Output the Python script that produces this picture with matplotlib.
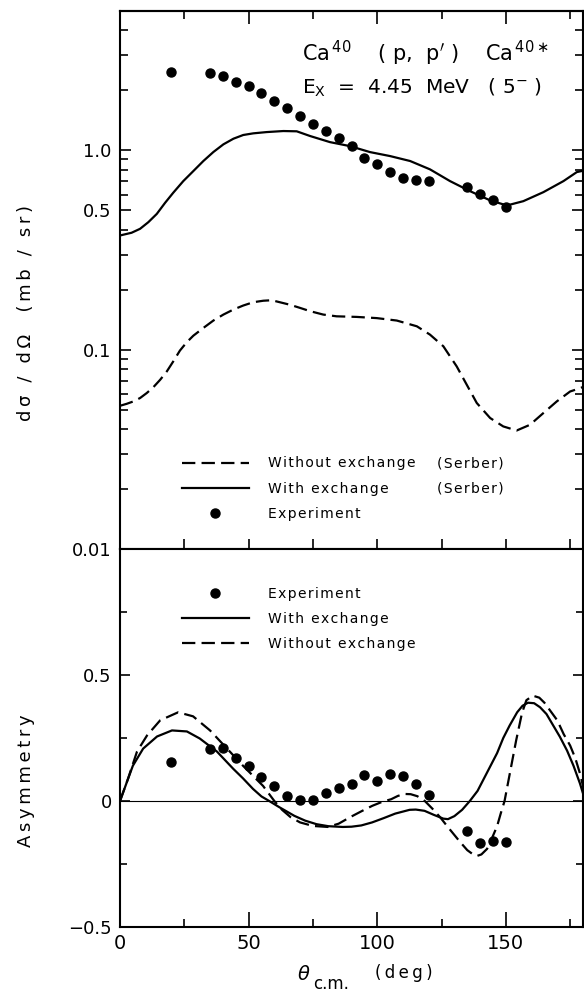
"""Ca40(p,p') 5- cross section and asymmetry, two stacked panels."""

import matplotlib
matplotlib.use('Agg')
import matplotlib.pyplot as plt
from matplotlib.ticker import FixedLocator, FixedFormatter, LogLocator, NullFormatter

plt.rcParams['font.family'] = ['DejaVu Sans']
plt.rcParams['mathtext.fontset'] = 'dejavusans'

# --- cross section (mb/sr) ---
exp_theta = [20, 35, 40, 45, 50, 55, 60, 65, 70, 75, 80, 85, 90, 95, 100,
             105, 110, 115, 120, 135, 140, 145, 150]
exp_xsec = [2.47, 2.44, 2.35, 2.20, 2.10, 1.93, 1.76, 1.63, 1.48, 1.35, 1.25,
            1.15, 1.05, 0.92, 0.85, 0.775, 0.723, 0.707, 0.70, 0.652, 0.601,
            0.561, 0.517]

with_theta = [0, 4.5, 7.8, 11.0, 14.3, 17.5, 20.7, 24.6, 28.5, 32.4, 36.3,
              40.2, 44.1, 47.9, 51.8, 57.0, 63.5, 68.7, 73.9, 81.6, 89.4, 97.2,
              105, 112.8, 120.5, 128.3, 136.1, 143.9, 150.4, 156.8, 164.6,
              172.4, 177.6, 180]
with_xsec = [0.374, 0.386, 0.404, 0.436, 0.480, 0.545, 0.613, 0.701, 0.787,
             0.884, 0.981, 1.072, 1.144, 1.194, 1.217, 1.235, 1.250, 1.246,
             1.18, 1.10, 1.05, 0.98, 0.936, 0.884, 0.803, 0.701, 0.624, 0.561,
             0.529, 0.556, 0.617, 0.701, 0.778, 0.79]

without_theta = [0, 2.6, 5.2, 7.8, 10.4, 13.0, 15.6, 18.2, 20.7, 23.3, 25.9,
                 28.5, 32.4, 36.3, 40.2, 44.1, 47.9, 51.8, 55.7, 59, 66.1, 70,
                 73.9, 79, 84.2, 92, 99.8, 107.6, 115.4, 120.5, 125.7, 130.9,
                 134.8, 138.7, 143.9, 149, 154.2, 159.4, 164.6, 169.8, 175,
                 178.9, 180]
without_xsec = [0.0523, 0.0535, 0.0550, 0.0572, 0.0606, 0.0649, 0.0706,
                0.0778, 0.0873, 0.099, 0.1088, 0.1175, 0.1285, 0.140, 0.150,
                0.159, 0.1665, 0.173, 0.176, 0.177, 0.168, 0.162, 0.156, 0.150,
                0.147, 0.146, 0.144, 0.140, 0.131, 0.119, 0.104, 0.0824,
                0.0667, 0.054, 0.0454, 0.0412, 0.0393, 0.042, 0.0481, 0.055,
                0.0617, 0.0641, 0.065]

# --- asymmetry ---
exp_asym = [0.155, 0.208, 0.21, 0.172, 0.14, 0.096, 0.06, 0.018, 0.004, 0.004,
            0.032, 0.052, 0.068, 0.105, 0.08, 0.108, 0.10, 0.068, 0.024,
            -0.12, -0.168, -0.16, -0.163]

asym_with_theta = [0, 2.7, 5, 9, 14.4, 20.2, 26, 31, 37.7, 44, 47.8, 51.7, 55,
                   58, 62, 67.8, 72, 76.4, 81, 86.6, 90, 93.8, 98, 102.5, 107,
                   112.6, 115, 118.4, 122, 125.7, 127.5, 130, 133, 136, 139,
                   142.7, 146.6, 149, 151.5, 154.4, 156.5, 158.6, 161, 163.3,
                   165.8, 168.4, 171, 173.8, 176.3, 178.8, 180]
asym_with = [0, 0.076, 0.14, 0.208, 0.256, 0.28, 0.276, 0.248, 0.196, 0.128,
             0.09, 0.048, 0.018, 0.0, -0.025, -0.059, -0.078, -0.092, -0.1,
             -0.103, -0.102, -0.097, -0.085, -0.068, -0.05, -0.035, -0.034,
             -0.039, -0.055, -0.07, -0.072, -0.06, -0.035, 0.0, 0.04, 0.113,
             0.19, 0.25, 0.30, 0.352, 0.378, 0.39, 0.388, 0.372, 0.345, 0.30,
             0.255, 0.20, 0.14, 0.07, 0.03]

asym_without_theta = [0, 3.1, 6.6, 10.5, 15.6, 22.6, 28.4, 35, 41.6, 47.8,
                      55.6, 60, 63, 66.3, 70, 75, 80.8, 85, 89.5, 94, 98.1,
                      102, 105.4, 108, 110.5, 113, 115.6, 118.5, 121.4, 124.5,
                      127.2, 129.6, 132, 135, 137, 138.8, 140.5, 142.7, 144.5,
                      146.6, 148, 149.5, 151, 152.5, 154, 156.3, 158, 160.5,
                      163, 165, 167.5, 170, 172.5, 175, 177, 178.8, 180]
asym_without = [0, 0.088, 0.196, 0.26, 0.32, 0.352, 0.336, 0.28, 0.208, 0.14,
                0.06, 0.0, -0.035, -0.064, -0.085, -0.099, -0.103, -0.09,
                -0.064, -0.04, -0.019, -0.003, 0.007, 0.02, 0.028, 0.027,
                0.019, 0.0, -0.03, -0.065, -0.10, -0.13, -0.16, -0.195, -0.21,
                -0.218, -0.212, -0.19, -0.15, -0.10, -0.05, 0.0, 0.08, 0.16,
                0.24, 0.35, 0.40, 0.418, 0.41, 0.39, 0.355, 0.32, 0.265, 0.22,
                0.17, 0.11, 0.06]

DASH = (0, (6, 2.8))
LW = 1.6


def spaced(s, gap='\u2009'):
    """Spread letters out a bit, like the hand lettering of the original."""
    return gap.join(s)


def main():
    fig = plt.figure(figsize=(5.84, 9.94), dpi=100)
    ax1 = fig.add_axes([0.2055, 0.4477, 0.7928, 0.5412])
    ax2 = fig.add_axes([0.2055, 0.0674, 0.7928, 0.3803])
    for ax in (ax1, ax2):
        for sp in ax.spines.values():
            sp.set_linewidth(1.5)

    # top panel: cross section
    l_solid, = ax1.plot(with_theta, with_xsec, color='black', lw=LW)
    l_dash, = ax1.plot(without_theta, without_xsec, color='black', lw=LW,
                       linestyle=DASH)
    l_exp, = ax1.plot(exp_theta, exp_xsec, 'o', color='black', ms=6.5,
                      linestyle='none')

    ax1.set_yscale('log')
    ax1.set_xlim(0, 180)
    ax1.set_ylim(0.01, 5)
    ax1.yaxis.set_major_locator(FixedLocator([0.01, 0.1, 0.5, 1.0]))
    ax1.yaxis.set_major_formatter(FixedFormatter(['0.01', '0.1', '0.5', '1.0']))
    ax1.yaxis.set_minor_locator(LogLocator(base=10, subs=(2, 3, 4, 5, 6, 7, 8, 9)))
    ax1.yaxis.set_minor_formatter(NullFormatter())
    ax1.xaxis.set_major_locator(FixedLocator([0, 50, 100, 150]))
    ax1.xaxis.set_minor_locator(FixedLocator([25, 75, 125, 175]))
    ax1.tick_params(axis='y', which='both', direction='in', left=True,
                    right=True, labelsize=13, width=1.2, pad=6)
    ax1.tick_params(axis='y', which='major', length=8)
    ax1.tick_params(axis='y', which='minor', length=5.5)
    # ticks crossing the shared boundary line
    ax1.tick_params(axis='x', which='both', direction='inout', top=False,
                    bottom=True, labelbottom=False, width=1.2, length=14)
    top = ax1.secondary_xaxis('top')
    top.xaxis.set_major_locator(FixedLocator([0, 50, 100, 150]))
    top.xaxis.set_minor_locator(FixedLocator([25, 75, 125, 175]))
    top.tick_params(axis='x', which='both', direction='in', labeltop=False,
                    width=1.2)
    top.tick_params(axis='x', which='major', length=9)
    top.tick_params(axis='x', which='minor', length=6)
    top.spines['top'].set_linewidth(1.5)

    ax1.text(0.393, 0.922,
             r'Ca$^{\,40}$    ( p,  p$^{\prime}$ )    Ca$^{\,40\ast}$',
             transform=ax1.transAxes, fontsize=15, va='center', ha='left')
    ax1.text(0.393, 0.857, r'E$_{\mathrm{X}}$  =  4.45  MeV   ( 5$^{-}$ )',
             transform=ax1.transAxes, fontsize=14.5, va='center', ha='left')

    leg_kw = dict(loc='upper left', frameon=False, fontsize=10,
                  handlelength=4.8, handletextpad=1.4, labelspacing=0.8,
                  borderpad=0, borderaxespad=0, numpoints=1)
    leg1 = ax1.legend([l_dash, l_solid, l_exp],
                      [spaced('Without exchange', '\u200a'),
                       spaced('With exchange', '\u200a'),
                       spaced('Experiment', '\u200a')],
                      bbox_to_anchor=(0.134, 0.172), **leg_kw)

    # (Serber) column next to first two legend entries
    fig.canvas.draw()
    inv = ax1.transAxes.inverted()
    for t in leg1.get_texts()[:2]:
        bb = t.get_window_extent()
        y = inv.transform((0, (bb.y0 + bb.y1) / 2))[1]
        ax1.text(0.685, y, spaced('(Serber)', '\u200a'), transform=ax1.transAxes,
                 fontsize=10, va='center', ha='left')

    # bottom panel: asymmetry
    a_solid, = ax2.plot(asym_with_theta, asym_with, color='black', lw=LW)
    a_dash, = ax2.plot(asym_without_theta, asym_without, color='black',
                       lw=LW, linestyle=DASH)
    a_exp, = ax2.plot(exp_theta, exp_asym, 'o', color='black', ms=6.5,
                      linestyle='none')
    ax2.axhline(0, color='black', lw=0.8)

    ax2.set_xlim(0, 180)
    ax2.set_ylim(-0.5, 1.0)
    ax2.yaxis.set_major_locator(FixedLocator([-0.5, 0, 0.5]))
    ax2.yaxis.set_major_formatter(FixedFormatter(['\u22120.5', '0', '0.5']))
    ax2.yaxis.set_minor_locator(FixedLocator([-0.25, 0.25, 0.75]))
    ax2.xaxis.set_major_locator(FixedLocator([0, 50, 100, 150]))
    ax2.xaxis.set_minor_locator(FixedLocator([25, 75, 125, 175]))
    ax2.tick_params(axis='both', which='both', direction='in', left=True,
                    right=True, top=False, bottom=True, width=1.2, pad=6)
    ax2.tick_params(axis='y', labelsize=13)
    ax2.tick_params(axis='x', labelsize=14, pad=5)
    ax2.tick_params(axis='y', which='major', length=7.5)
    ax2.tick_params(axis='y', which='minor', length=5)
    ax2.tick_params(axis='x', which='major', length=10.5)
    ax2.tick_params(axis='x', which='minor', length=6)

    ax2.legend([a_exp, a_solid, a_dash],
               [spaced('Experiment', '\u200a'),
                spaced('With exchange', '\u200a'),
                spaced('Without exchange', '\u200a')],
               bbox_to_anchor=(0.134, 0.9), **leg_kw)

    # axis titles
    fig.text(0.045, 0.685, spaced('d\u03c3 / d\u03a9  (mb / sr)'), rotation=90,
             fontsize=13, ha='center', va='center')
    fig.text(0.045, 0.215, spaced('Asymmetry'), rotation=90, fontsize=13,
             ha='center', va='center')
    fig.text(297 / 584, 1 - 975 / 994, r'$\theta$', fontsize=14,
             ha='left', va='center')
    fig.text(313 / 584, 1 - 989 / 994, 'c.m.', fontsize=12,
             ha='left', va='baseline')
    fig.text(375 / 584, 1 - 973 / 994, spaced('(deg)'), fontsize=12,
             ha='left', va='center')

    fig.savefig('out.png', dpi=100)


if __name__ == "__main__":
    main()
